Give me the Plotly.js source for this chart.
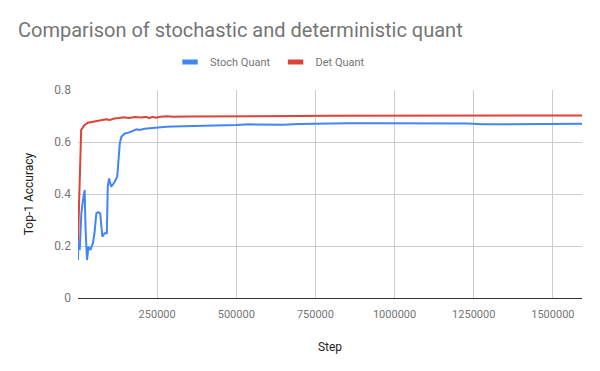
<!DOCTYPE html>
<html>
<head>
<meta charset="utf-8">
<script src="https://cdn.plot.ly/plotly-3.0.1.min.js"></script>
<style>
  html, body { margin: 0; padding: 0; background: #fff; }
  #chart { width: 600px; height: 371px; }
</style>
</head>
<body>
<div id="chart"></div>
<script>
// values
const stochSteps = [0, 1000, 5500, 10600, 15800, 21000, 24000, 28500, 33000, 39000, 47000, 52000, 58000, 63000, 70000,
  77000, 84000, 91000, 94000, 98000, 105000, 116000, 124000, 132000, 137000, 148000, 160000, 169000, 178000, 185000,
  195000, 210000, 227000, 240000, 259000, 280000, 300000, 350000, 400000, 450000, 500000, 541000, 600000, 645000,
  700000, 753000, 850000, 950000, 1050000, 1174000, 1230000, 1278000, 1350000, 1450000, 1592000];
const stochAcc = [0.146, 0.217, 0.185, 0.326, 0.377, 0.415, 0.262, 0.146, 0.197, 0.185, 0.21, 0.249, 0.326, 0.33, 0.326,
  0.236, 0.249, 0.249, 0.428, 0.46, 0.428, 0.447, 0.467, 0.595, 0.62, 0.633, 0.636, 0.64, 0.645, 0.649,
  0.646, 0.651, 0.653, 0.655, 0.658, 0.659, 0.66, 0.661, 0.662, 0.663, 0.665, 0.668, 0.667, 0.666,
  0.669, 0.671, 0.672, 0.672, 0.672, 0.673, 0.671, 0.668, 0.669, 0.669, 0.67];

const detSteps = [0, 2500, 5000, 7300, 10000, 20000, 31000, 47000, 60000, 75000, 89000, 100000, 115000, 130000, 144000,
  160000, 180000, 200000, 215000, 225000, 235000, 246000, 260000, 280000, 300000, 350000, 400000, 500000, 600000,
  700000, 800000, 900000, 1000000, 1100000, 1200000, 1250000, 1300000, 1385000, 1420000, 1500000, 1592000];
const detAcc = [0.217, 0.35, 0.454, 0.608, 0.646, 0.665, 0.674, 0.678, 0.68, 0.684, 0.687, 0.685, 0.69, 0.692, 0.695,
  0.692, 0.696, 0.694, 0.697, 0.692, 0.697, 0.693, 0.697, 0.699, 0.697, 0.698, 0.698, 0.699, 0.7,
  0.7, 0.701, 0.701, 0.701, 0.702, 0.702, 0.701, 0.701, 0.7, 0.702, 0.702, 0.702];

const xTicks = [250000, 500000, 750000, 1000000, 1250000, 1500000];
const yTicks = [0, 0.2, 0.4, 0.6, 0.8];

const BLUE = '#4285f4';
const RED = '#db4437';
const GREY = '#757575';

const traces = [
  { x: stochSteps, y: stochAcc, type: 'scatter', mode: 'lines', line: { color: BLUE, width: 2 }, showlegend: false, hoverinfo: 'x+y' },
  { x: detSteps, y: detAcc, type: 'scatter', mode: 'lines', line: { color: RED, width: 2 }, showlegend: false, hoverinfo: 'x+y' },
  // legend-only entries, short thick glyphs like the reference
  { x: [null], y: [null], type: 'scatter', mode: 'markers', name: 'Stoch Quant',
    marker: { symbol: 'line-ew', size: 11, line: { color: BLUE, width: 5 } } },
  { x: [null], y: [null], type: 'scatter', mode: 'markers', name: 'Det Quant',
    marker: { symbol: 'line-ew', size: 11, line: { color: RED, width: 5 } } },
];

const layout = {
  width: 600,
  height: 371,
  margin: { l: 78, r: 18, t: 90, b: 73 },
  paper_bgcolor: '#fff',
  plot_bgcolor: '#fff',
  font: { family: 'Roboto, Arial, sans-serif', color: GREY, size: 11 },
  title: {
    text: 'Comparison of stochastic and deterministic quant',
    font: { size: 20, color: GREY },
    x: 0.03, xref: 'container', xanchor: 'left',
    y: 0.919, yref: 'container', yanchor: 'middle',
  },
  showlegend: true,
  legend: {
    orientation: 'h',
    x: 0.381, xanchor: 'center', xref: 'paper',
    y: 1.135, yanchor: 'middle',
    font: { size: 11, color: GREY },
    itemwidth: 30,
    traceorder: 'normal',
  },
  xaxis: {
    range: [0, 1592000],
    tickvals: xTicks,
    ticktext: xTicks.map(String),
    showgrid: true,
    gridcolor: '#cccccc',
    zeroline: false,
    showline: false,
    ticks: '',
    ticklabelstandoff: 8,
    tickfont: { size: 11, color: GREY },
    title: { text: 'Step', font: { size: 12, color: '#222' }, standoff: 22 },
    fixedrange: true,
  },
  yaxis: {
    range: [0, 0.8],
    tickvals: yTicks,
    ticktext: yTicks.map(String),
    showgrid: true,
    gridcolor: '#cccccc',
    zeroline: true,
    zerolinecolor: '#333333',
    zerolinewidth: 1,
    showline: false,
    ticks: '',
    ticklabelstandoff: 6,
    tickfont: { size: 12, color: GREY },
    title: { text: 'Top-1 Accuracy', font: { size: 12, color: '#222' }, standoff: 18 },
    fixedrange: true,
  },
};

Plotly.newPlot('chart', traces, layout, { displayModeBar: false, staticPlot: true });
</script>
</body>
</html>
